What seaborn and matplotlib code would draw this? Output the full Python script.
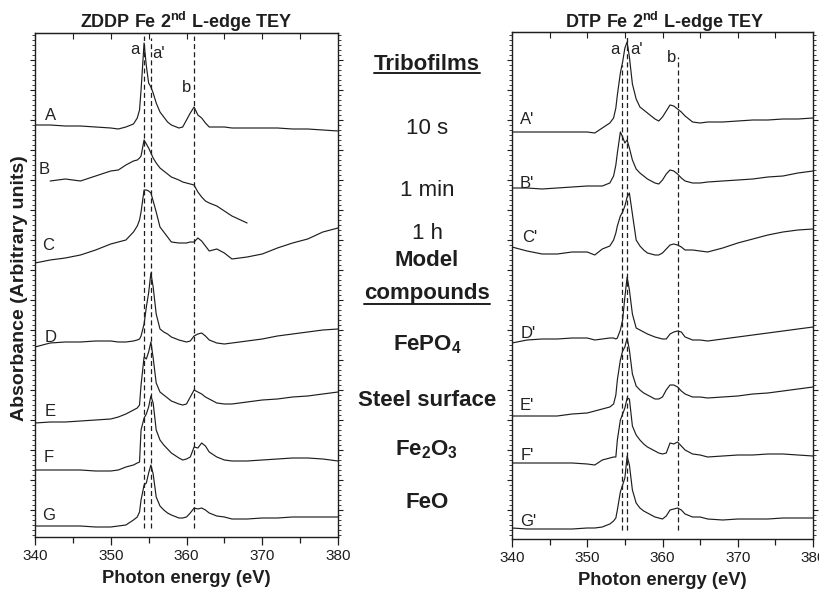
import numpy as np
import pandas as pd
import matplotlib
matplotlib.use("Agg")
import matplotlib.pyplot as plt
from matplotlib.lines import Line2D
from matplotlib.ticker import MultipleLocator, NullFormatter
import seaborn as sns

# ---------------- data ----------------
energy = [340, 342, 344, 346, 348, 350, 351, 352, 353, 353.5, 353.8, 354, 354.4, 354.7,
          355, 355.3, 355.6, 356, 356.5, 357, 357.5, 358, 359, 359.5, 360, 360.5, 361,
          361.5, 362, 362.5, 363, 364, 365, 366, 368, 370, 372, 374, 376, 378, 380]
nan = np.nan

# ZDDP panel (arbitrary absorbance units, stacked)
zddp_A = [415, 415, 414, 414, 413, 412, 411, 413, 416, 422, 430, 450, 497, 474, 457, 453, 447, 437, 428, 423,
          418, 415, 412, 413, 420, 427, 433, 425, 422, 417, 413, 413, 413, 412, 412, 412, 412, 411, 411, 410, 409]
zddp_B = [nan, 359, 361, 359, 364, 369, 370, 375, 379, 380, 382, 384, 400, 396, 392, 387, 382, 377, 372, 369,
          366, 363, 360, 358, 357, 356, 355, 348, 343, 339, 337, 334, 329, 324, 317, nan, nan, nan, nan, nan, nan]
zddp_C = [277, 280, 282, 285, 290, 296, 298, 300, 308, 314, 320, 328, 350, 350, 349, 347, 339, 328, 313, 308,
          303, 298, 297, 297, 297, 298, 298, 302, 299, 294, 289, 291, 287, 281, 283, 286, 292, 297, 301, 308, 312]
zddp_D = [193, 197, 198, 198, 199, 199, 198, 198, 199, 200, 201, 204, 216, 233, 247, 267, 253, 226, 211, 208,
          206, 203, 200, 199, 198, 199, 204, 206, 207, 204, 200, 197, 196, 197, 199, 201, 204, 206, 208, 210, 211]
zddp_E = [117, 118, 118, 119, 120, 121, 123, 126, 130, 132, 135, 155, 183, 181, 188, 198, 182, 157, 148, 145,
          142, 139, 136, 135, 136, 143, 150, 148, 146, 143, 141, 137, 136, 136, 138, 140, 141, 143, 144, 146, 148]
zddp_F = [70, 70, 70, 70, 69, 69, 70, 73, 75, 77, 78, 110, 122, 126, 133, 144, 137, 110, 100, 95,
          91, 87, 82, 80, 81, 83, 93, 92, 97, 94, 88, 83, 80, 79, 79, 80, 81, 82, 82, 81, 79]
zddp_G = [14, 14, 14, 14, 13, 13, 14, 15, 20, 23, 28, 40, 55, 57, 67, 75, 66, 43, 34, 30,
          27, 25, 22, 22, 23, 27, 32, 31, 32, 30, 27, 24, 23, 21, 21, 22, 22, 23, 23, 23, 23]

# DTP panel
dtp_A = [408, 408, 408, 408, 408, 408, 407, 412, 417, 422, 432, 445, 467, 478, 492, 498, 483, 456, 441, 433,
         430, 427, 421, 419, 423, 429, 435, 434, 431, 428, 424, 418, 417, 418, 418, 419, 420, 420, 421, 421, 422]
dtp_B = [352, 352, 351, 352, 353, 354, 354, 354, 357, 364, 375, 387, 408, 403, 397, 400, 392, 380, 371, 367,
         364, 361, 357, 356, 360, 366, 370, 369, 366, 362, 359, 357, 357, 358, 359, 360, 361, 363, 364, 367, 369]
dtp_C = [293, 289, 286, 286, 288, 288, 285, 291, 294, 300, 307, 314, 324, 328, 334, 343, 347, 326, 300, 294,
         290, 287, 285, 285, 287, 291, 295, 296, 295, 293, 290, 290, 289, 288, 292, 297, 301, 305, 308, 310, 311]
dtp_D = [197, 200, 201, 201, 202, 202, 200, 201, 202, 202, 201, 202, 210, 220, 243, 263, 250, 226, 212, 210,
         208, 206, 203, 202, 201, 201, 206, 208, 209, 208, 203, 200, 200, 199, 201, 203, 205, 207, 209, 211, 213]
dtp_E = [124, 124, 124, 124, 126, 127, 129, 131, 133, 136, 145, 160, 180, 189, 193, 202, 190, 166, 154, 150,
         147, 145, 141, 141, 143, 150, 155, 155, 153, 149, 146, 143, 143, 142, 143, 144, 146, 147, 149, 151, 153]
dtp_F = [77, 77, 77, 77, 77, 76, 75, 80, 82, 83, 83, 100, 120, 126, 132, 142, 141, 114, 105, 100,
         96, 93, 89, 87, 86, 87, 97, 96, 98, 94, 90, 86, 85, 83, 84, 85, 85, 86, 86, 85, 84]
dtp_G = [12, 11, 11, 11, 11, 12, 12, 13, 16, 19, 22, 30, 48, 55, 62, 84, 75, 50, 37, 32,
         29, 27, 23, 22, 21, 24, 30, 31, 32, 30, 26, 23, 23, 21, 20, 21, 21, 21, 22, 22, 22]

zddp_names = ["A", "B", "C", "D", "E", "F", "G"]
dtp_names = ["A'", "B'", "C'", "D'", "E'", "F'", "G'"]
zddp_series = [zddp_A, zddp_B, zddp_C, zddp_D, zddp_E, zddp_F, zddp_G]
dtp_series = [dtp_A, dtp_B, dtp_C, dtp_D, dtp_E, dtp_F, dtp_G]

# curve label positions (energy, absorbance)
zddp_label_x = [342.0, 341.2, 341.7, 342.0, 342.0, 341.8, 341.8]
zddp_label_y = [425, 370, 295, 202, 128, 82, 25]
dtp_label_x = [342.0, 342.0, 342.4, 342.2, 342.0, 342.0, 342.2]
dtp_label_y = [421, 357, 302, 207, 135, 85, 18]

# peak reference energies
zddp_peaks = [354.4, 355.3, 361.0]
dtp_peaks = [354.6, 355.3, 362.0]
peak_names = ["a", "a'", "b"]
zddp_peak_label_x = [353.2, 356.3, 360.0]
zddp_peak_label_y = [490, 487, 452]
dtp_peak_label_x = [353.7, 356.6, 361.2]
dtp_peak_label_y = [490, 490, 483]

titles = ["ZDDP Fe 2$^{\\mathbf{nd}}$ L-edge TEY", "DTP Fe 2$^{\\mathbf{nd}}$ L-edge TEY"]

middle_labels = ["10 s", "1 min", "1 h", r"$\mathbf{FePO_4}$", "Steel surface",
                 r"$\mathbf{Fe_2O_3}$", "FeO"]
middle_baseline_px = [134, 196.5, 239, 350, 406.5, 455, 508]

# ---------------- styling ----------------
sns.set_style("ticks")
plt.rcParams["font.family"] = ["Liberation Sans", "DejaVu Sans"]
plt.rcParams["mathtext.fontset"] = "custom"
plt.rcParams["mathtext.rm"] = "Liberation Sans"
plt.rcParams["mathtext.bf"] = "Liberation Sans:bold"
plt.rcParams["mathtext.it"] = "Liberation Sans:italic"

INK = "#1e1e1e"
W, H = 819, 590
fig = plt.figure(figsize=(W / 100, H / 100), dpi=100)

def px_axes(x0, x1, ytop, ybot):
    return fig.add_axes([x0 / W, 1 - ybot / H, (x1 - x0) / W, (ybot - ytop) / H])

ax1 = px_axes(35, 338, 33, 537)
ax2 = px_axes(512, 813, 32, 539)

def build_df(names, series):
    rows = []
    for n, s in zip(names, series):
        for e, v in zip(energy, s):
            rows.append((n, e, v))
    return pd.DataFrame(rows, columns=["curve", "energy", "absorbance"]).dropna()

panels = [
    (ax1, zddp_names, zddp_series, zddp_label_x, zddp_label_y, zddp_peaks,
     zddp_peak_label_x, zddp_peak_label_y, (3, 507), [12, 12, 12], [504, 502, 504]),
    (ax2, dtp_names, dtp_series, dtp_label_x, dtp_label_y, dtp_peaks,
     dtp_peak_label_x, dtp_peak_label_y, (1, 508), [10, 10, 10], [475, 505, 483]),
]

for (ax, names, series, lx, ly, peaks, plx, ply, ylim, vmin, vmax) in panels:
    df = build_df(names, series)
    sns.lineplot(data=df, x="energy", y="absorbance", hue="curve",
                 palette={n: INK for n in names}, legend=False,
                 linewidth=0.85, ax=ax, sort=True)
    for pk, lo, hi in zip(peaks, vmin, vmax):
        ax.vlines(pk, lo, hi, colors=INK, linestyles=(0, (4, 2.5)), linewidth=0.9)
    for n, x, y in zip(names, lx, ly):
        ax.text(x, y, n, fontsize=12, ha="center", va="center", color="#222222")
    for n, x, y in zip(peak_names, plx, ply):
        ax.text(x, y, n, fontsize=12, ha="center", va="center", color="#222222")
    ax.set_xlim(340, 380)
    ax.set_ylim(*ylim)
    ax.set_xticks([340, 350, 360, 370, 380])
    ax.xaxis.set_minor_locator(MultipleLocator(5))
    ax.tick_params(axis="x", which="major", direction="out", length=6, width=0.9,
                   labelsize=11, pad=3, colors=INK)
    ax.tick_params(axis="x", which="minor", direction="out", length=4, width=0.9, colors=INK)
    for lab in ax.get_xticklabels():
        lab.set_family(["Liberation Sans Narrow", "Liberation Sans"])
    ax.yaxis.set_major_locator(MultipleLocator(30))
    ax.yaxis.set_minor_locator(MultipleLocator(5))
    ax.yaxis.set_major_formatter(NullFormatter())
    ax.tick_params(axis="y", which="both", direction="out", left=True, right=True,
                   labelleft=False, colors=INK)
    ax.tick_params(axis="y", which="major", length=3.5, width=0.8)
    ax.tick_params(axis="y", which="minor", length=2, width=0.6)
    top = ax.secondary_xaxis("top")
    top.set_xticks(list(range(340, 381, 5)))
    top.tick_params(direction="in", length=4, width=0.8, labeltop=False, colors=INK)
    for sp in ax.spines.values():
        sp.set_visible(True)
        sp.set_linewidth(1.0)
        sp.set_color(INK)
    ax.set_xlabel("Photon energy (eV)", fontsize=13.2, fontweight="bold", labelpad=5,
                  color=INK)
    ax.set_ylabel("")

# panel titles
fig.text(186 / W, 1 - 28 / H, titles[0], fontsize=13, fontweight="bold",
         ha="center", va="baseline", color=INK)
fig.text(664 / W, 1 - 27.5 / H, titles[1], fontsize=13, fontweight="bold",
         ha="center", va="baseline", color=INK)

fig.text(20 / W, 1 - 288 / H, "Absorbance (Arbitrary units)", rotation=90,
         fontsize=14, fontweight="bold", ha="center", va="center", color=INK)

# middle column
cx = 427 / W
FS = 16
t_tribo = fig.text(cx, 1 - 70 / H, "Tribofilms", fontsize=FS, fontweight="bold",
                   ha="center", va="baseline", color=INK)
fig.text(cx, 1 - 266.5 / H, "Model", fontsize=FS, fontweight="bold", ha="center",
         va="baseline", color=INK)
t_comp = fig.text(cx, 1 - 299 / H, "compounds", fontsize=FS, fontweight="bold",
                  ha="center", va="baseline", color=INK)
for lab, ypx in zip(middle_labels, middle_baseline_px):
    bold = lab not in ("10 s", "1 min", "1 h")
    fig.text(cx, 1 - ypx / H, lab, fontsize=FS, fontweight="bold" if bold else "normal",
             ha="center", va="baseline", color=INK)

fig.canvas.draw()
r = fig.canvas.get_renderer()
for t, uy in ((t_tribo, 73), (t_comp, 303.5)):
    bb = t.get_window_extent(r)
    fig.add_artist(Line2D([bb.x0 / W, bb.x1 / W], [1 - uy / H, 1 - uy / H],
                          transform=fig.transFigure, color=INK, linewidth=1.4))

fig.savefig("out.png", dpi=100)
